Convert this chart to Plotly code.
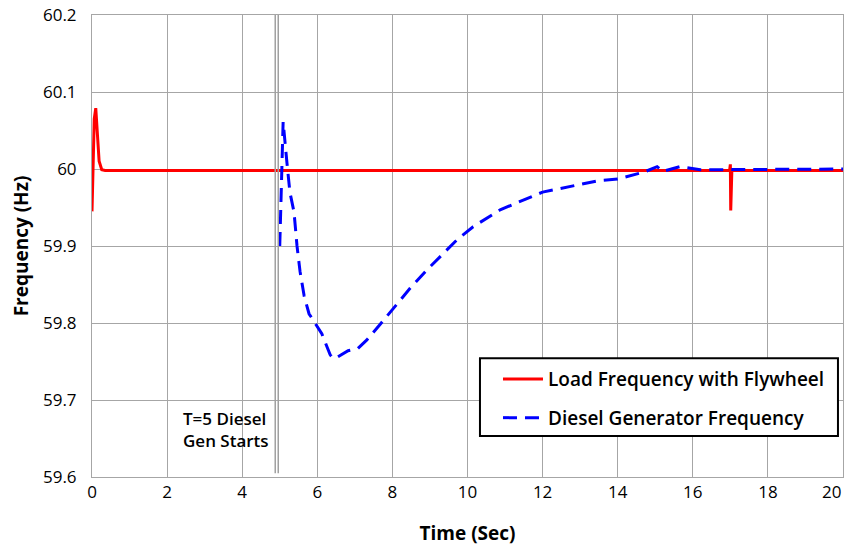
import plotly.graph_objects as go

# Load frequency with flywheel (red)
load_t = [0, 0.01, 0.03, 0.06, 0.1, 0.14, 0.19, 0.26, 0.35, 16.98, 17.0, 17.01, 17.02, 17.04, 20]
load_f = [59.945, 59.97, 60.02, 60.065, 60.079, 60.045, 60.01, 59.999, 59.998, 59.998, 60.006, 59.946, 59.99, 59.998, 59.998]

# Diesel generator frequency (blue dashed)
gen_t = [5.0, 5.09, 5.19, 5.27, 5.38, 5.46, 5.54, 5.65, 5.78, 5.94, 6.12, 6.34, 6.42, 6.55, 6.82, 7.08,
         7.32, 7.67, 8.02, 8.47, 8.92, 9.35, 9.72, 10.15, 10.87, 12.0, 13.0, 13.5, 14.0, 14.4, 14.7,
         15.05, 15.2, 15.65, 16.2, 20.0]
gen_f = [59.9, 60.061, 60.009, 59.97, 59.944, 59.9, 59.867, 59.835, 59.812, 59.8, 59.786, 59.759, 59.754,
         59.756, 59.764, 59.767, 59.778, 59.798, 59.819, 59.845, 59.869, 59.89, 59.908, 59.925, 59.947,
         59.97, 59.98, 59.985, 59.987, 59.992, 59.996, 60.003, 59.997, 60.003, 59.999, 60.0]

x_ticks = [0, 2, 4, 6, 8, 10, 12, 14, 16, 18, 20]
x_labels = ["0", "2", "4", "6", "8", "10", "12", "14", "16", "18", "20"]
y_ticks = [59.6, 59.7, 59.8, 59.9, 60.0, 60.1, 60.2]
y_labels = ["59.6", "59.7", "59.8", "59.9", "60", "60.1", "60.2"]

FONT = "Open Sans"

fig = go.Figure()
fig.add_trace(go.Scatter(x=load_t, y=load_f, mode="lines", name="Load Frequency with Flywheel",
                         legendgroup="a", line=dict(color="#ff0000", width=3)))
fig.add_trace(go.Scatter(x=gen_t, y=gen_f, mode="lines", name="Diesel Generator Frequency",
                         legendgroup="b", line=dict(color="#0000ff", width=3, dash="14px,8px")))

# start marker (double gray vertical line)
for xv in [4.88, 4.96]:
    fig.add_shape(type="line", xref="x", yref="y", x0=xv, x1=xv, y0=59.605, y1=60.2,
                  line=dict(color="#a0a0a0", width=1.5))

# legend frame
fig.add_shape(type="rect", xref="paper", yref="paper", x0=0.5166, x1=0.9933, y0=0.0886, y1=0.257,
              line=dict(color="black", width=2), fillcolor="white", layer="above")

fig.add_annotation(x=4.76, y=59.662, xref="x", yref="y", xanchor="right", yanchor="middle",
                   text="T=5 Diesel<br>Gen Starts", showarrow=False, align="left",
                   font=dict(family=FONT, size=17, color="black", weight=600))

# last x tick label kept inside the visible window (right-aligned at the axis end)
fig.add_annotation(x=x_ticks[-1], y=0, xref="x", yref="paper", xanchor="right", yanchor="middle",
                   yshift=-14, text=x_labels[-1], showarrow=False,
                   font=dict(family=FONT, size=17, color="black"))

# page body has an 8px margin, so figure is offset by 8px in the window
fig.update_layout(
    width=853, height=540,
    margin=dict(l=84, r=18, t=7, b=71),
    paper_bgcolor="white", plot_bgcolor="white",
    font=dict(family=FONT, size=17, color="black"),
    showlegend=True,
    legend=dict(x=0.5406, y=0.253, xanchor="left", yanchor="top",
                bgcolor="rgba(0,0,0,0)", borderwidth=0,
                font=dict(family=FONT, size=19, color="black", weight=600),
                tracegroupgap=11, itemwidth=40),
    xaxis=dict(range=[0, 20], tickvals=x_ticks[:-1], ticktext=x_labels[:-1],
               showgrid=True, gridcolor="#a6a6a6", gridwidth=1, automargin=False,
               showline=True, linecolor="#a6a6a6", mirror=True, zeroline=False,
               ticks="", ticklabeloverflow="allow",
               title=dict(text="<b>Time (Sec)</b>", font=dict(size=19), standoff=24),
               tickfont=dict(size=17)),
    yaxis=dict(range=[59.6, 60.2], tickvals=y_ticks, ticktext=y_labels,
               showgrid=True, gridcolor="#a6a6a6", gridwidth=1, automargin=False,
               showline=True, linecolor="#a6a6a6", mirror=True, zeroline=False,
               ticks="", ticklabelstandoff=11, ticklabeloverflow="allow",
               title=dict(text="<b>Frequency (Hz)</b>", font=dict(size=19), standoff=22),
               tickfont=dict(size=17)),
)

fig.write_html("out.html")
